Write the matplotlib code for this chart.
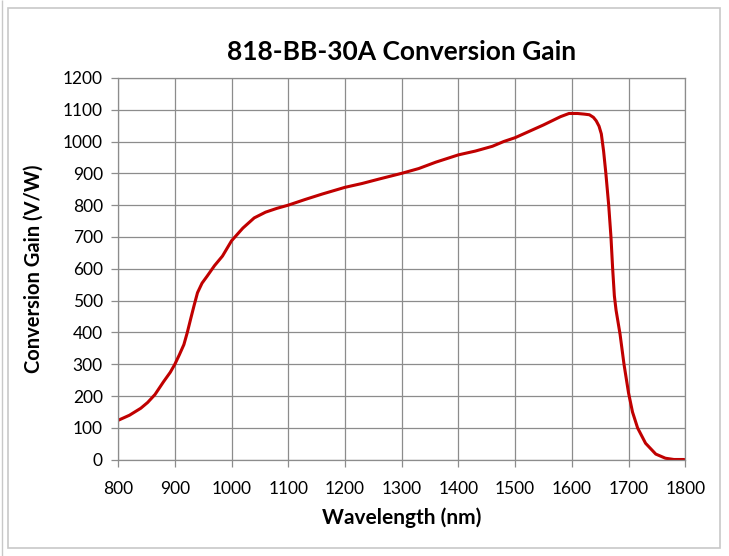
import numpy as np
import matplotlib.pyplot as plt
from matplotlib.patches import Rectangle

# wavelength (nm) vs conversion gain (V/W)
wavelength = [800, 820, 840, 852, 865, 880, 892, 900, 908, 916, 922, 928, 934, 940, 948,
              957, 970, 984, 1000, 1020, 1040, 1060, 1080, 1100, 1130, 1160, 1200, 1230,
              1260, 1300, 1330, 1360, 1400, 1430, 1460, 1480, 1500, 1520, 1550, 1580, 1595,
              1610, 1622, 1631, 1638, 1643, 1648, 1652, 1656, 1660, 1665, 1669, 1672, 1675,
              1678, 1685, 1692, 1700, 1707, 1716, 1730, 1748, 1765, 1780, 1798]
gain = [124, 140, 162, 180, 205, 245, 275, 300, 330, 362, 400, 443, 485, 525, 555,
        577, 610, 640, 688, 728, 760, 778, 790, 800, 818, 835, 856, 868,
        882, 900, 915, 935, 958, 970, 985, 1000, 1012, 1028, 1052, 1078, 1088,
        1088, 1086, 1084, 1076, 1065, 1048, 1024, 970, 900, 800, 700, 600, 515,
        470, 395, 300, 210, 150, 100, 52, 18, 5, 1, 1]

x_ticks = list(range(800, 1801, 100))
y_ticks = list(range(0, 1201, 100))

plt.rcParams['font.family'] = ['Lato', 'DejaVu Sans']

fig = plt.figure(figsize=(7.29, 5.56), dpi=100)
ax = fig.add_axes([0.162, 0.173, 0.778, 0.687])

# outer chart frame like the spreadsheet chart object
fig.patches.append(Rectangle((8 / 729, 8 / 556), 712 / 729, 540 / 556,
                             transform=fig.transFigure, fill=False,
                             edgecolor='#c8c8c8', linewidth=1.2))
fig.patches.append(Rectangle((2 / 729, 0), 0, 1, transform=fig.transFigure,
                             fill=False, edgecolor='#c8c8c8', linewidth=1))

ax.plot(wavelength, gain, color='#c00000', linewidth=2.2, solid_capstyle='round')

ax.set_xlim(800, 1800)
ax.set_ylim(0, 1200)
ax.set_xticks(x_ticks)
ax.set_yticks(y_ticks)
ax.grid(True, color='#8c8c8c', linewidth=0.9)
ax.set_axisbelow(True)
for s in ax.spines.values():
    s.set_color('#8c8c8c')
    s.set_linewidth(0.9)
ax.tick_params(axis='both', colors='#8c8c8c', length=5, width=0.9,
               labelcolor='black', labelsize=12.5)
ax.tick_params(axis='x', pad=10)
ax.tick_params(axis='y', pad=6)

ax.set_title('818-BB-30A Conversion Gain', fontsize=19, fontweight='bold', pad=13)
ax.set_xlabel('Wavelength (nm)', fontsize=15, fontweight='bold', labelpad=8)
ax.set_ylabel('Conversion Gain (V/W)', fontsize=14.5, fontweight='bold', labelpad=14)

fig.savefig('out.png', dpi=100)
